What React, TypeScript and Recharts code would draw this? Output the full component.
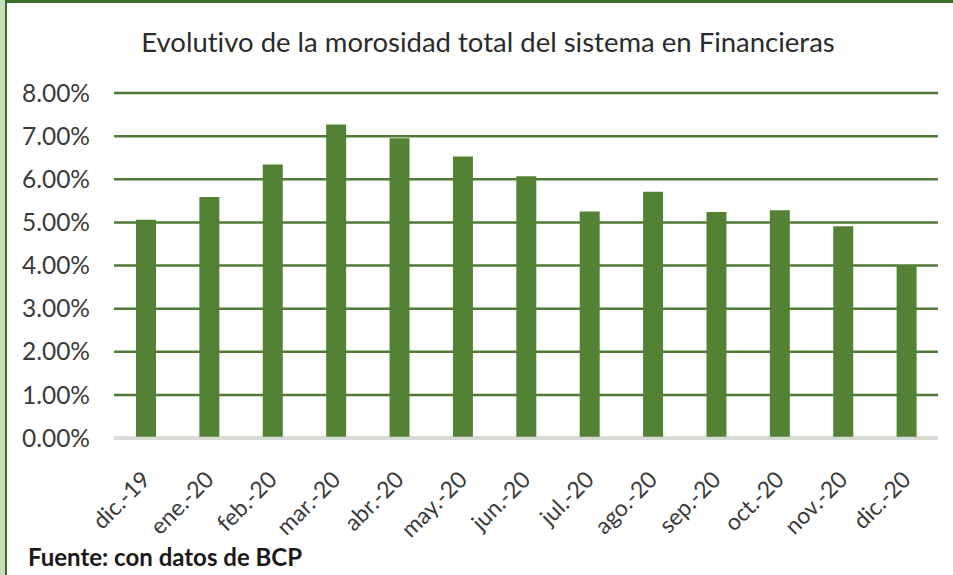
import React from 'react';
import { BarChart, Bar, XAxis, YAxis, CartesianGrid } from 'recharts';

const months = [
  'dic.-19', 'ene.-20', 'feb.-20', 'mar.-20', 'abr.-20', 'may.-20', 'jun.-20',
  'jul.-20', 'ago.-20', 'sep.-20', 'oct.-20', 'nov.-20', 'dic.-20',
];
const morosidad = [5.06, 5.59, 6.34, 7.27, 6.95, 6.53, 6.07, 5.25, 5.71, 5.24, 5.28, 4.91, 4.01];
const yTicks = [0, 1, 2, 3, 4, 5, 6, 7, 8];

const data = months.map((month, i) => ({ month, value: morosidad[i] }));

const FONT = 'Lato, "Open Sans", sans-serif';

const MonthTick = ({ x, y, payload }: any) => (
  <g transform={`translate(${x},${y})`}>
    <text
      x={6}
      y={35}
      textAnchor="end"
      transform="rotate(-45 6 35)"
      fontSize={23}
      fontFamily={FONT}
      fill="#3a3a3a"
    >
      {payload.value}
    </text>
  </g>
);

const App = () => {
  return (
    <div
      style={{
        position: 'absolute',
        left: 0,
        top: 0,
        width: 953,
        height: 575,
        background: '#fff',
        overflow: 'hidden',
        fontVariantLigatures: 'none',
      }}
    >
      <BarChart
        width={953}
        height={575}
        data={data}
        margin={{ top: 93, right: 15, bottom: 0, left: 0 }}
      >
        <CartesianGrid vertical={false} stroke="#4f7a36" strokeWidth={2.5} />
        <XAxis
          dataKey="month"
          height={137}
          interval={0}
          tickLine={false}
          axisLine={{ stroke: '#d9d9d9', strokeWidth: 2.5 }}
          tick={<MonthTick />}
        />
        <YAxis
          width={114}
          domain={[0, 8]}
          ticks={yTicks}
          tickLine={false}
          axisLine={false}
          tickSize={0}
          tickMargin={24}
          tickFormatter={(v: number) => `${v.toFixed(2)}%`}
          tick={{ fontSize: 24.5, fontFamily: FONT, fill: '#3a3a3a' }}
        />
        <Bar dataKey="value" fill="#548235" barSize={20} isAnimationActive={false} />
      </BarChart>
      <svg
        width={953}
        height={575}
        style={{ position: 'absolute', left: 0, top: 0, pointerEvents: 'none' }}
      >
        <text x={488} y={52} textAnchor="middle" fontSize={27.5} fontFamily={FONT} fill="#2b2b2b">
          Evolutivo de la morosidad total del sistema en Financieras
        </text>
        <text x={28} y={566} fontSize={24} fontWeight="bold" fontFamily={FONT} fill="#1a1a1a">
          Fuente: con datos de BCP
        </text>
      </svg>
      <div style={{ position: 'absolute', left: 0, top: 0, width: 5, height: 575, background: '#c5e0b4' }} />
      <div style={{ position: 'absolute', left: 5, top: 0, width: 2, height: 575, background: '#3f6b2a' }} />
      <div style={{ position: 'absolute', left: 5, top: 0, width: 948, height: 3, background: '#3f6b2a' }} />
    </div>
  );
};

export default App;
